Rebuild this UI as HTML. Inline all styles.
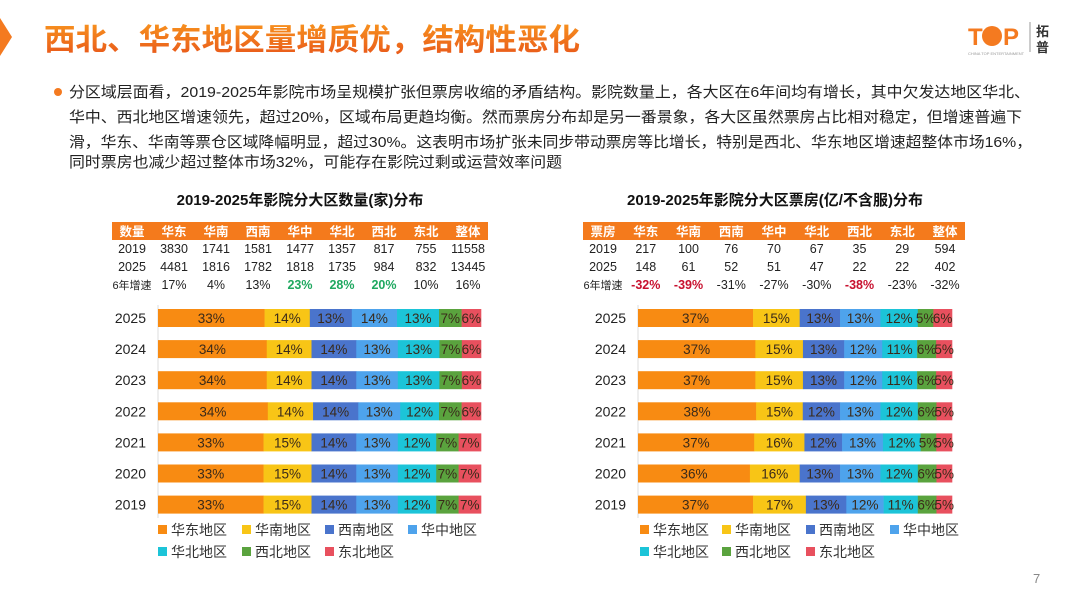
<!DOCTYPE html>
<html><head><meta charset="utf-8"><style>
body{margin:0;background:#fff;}
svg text{font-family:"Liberation Sans","Noto Sans CJK SC",sans-serif;}
</style></head><body>
<svg id="s" width="1080" height="608" viewBox="0 0 1080 608" xmlns="http://www.w3.org/2000/svg">
<defs><linearGradient id="tg" x1="0" y1="0" x2="0" y2="1"><stop offset="0" stop-color="#F7901E"/><stop offset="1" stop-color="#E8561A"/></linearGradient></defs>
<polygon points="0,18 12,37 0,56" fill="#F47A20"/>
<text x="44" y="50" font-size="30" font-weight="bold" fill="url(#tg)" textLength="536" lengthAdjust="spacingAndGlyphs">西北、华东地区量增质优，结构性恶化</text>
<g>
<text x="968" y="45" font-size="24" font-weight="bold" fill="#F47A20">T</text><circle cx="992" cy="36" r="10" fill="#F47A20"/><text x="1003" y="45" font-size="24" font-weight="bold" fill="#F47A20">P</text>
<line x1="1030" y1="22" x2="1030" y2="52" stroke="#999"/><text x="1036" y="36" font-size="13" font-weight="bold" fill="#333">拓</text><text x="1036" y="52" font-size="13" font-weight="bold" fill="#333">普</text>
<text x="968" y="55" font-size="4" fill="#999">CHINA TOP ENTERTAINMENT</text></g>
<circle cx="58" cy="92" r="4" fill="#F47A20"/>
<g font-size="15" fill="#222" lengthAdjust="spacingAndGlyphs">
<text x="69" y="97" textLength="961" lengthAdjust="spacingAndGlyphs">分区域层面看，2019-2025年影院市场呈规模扩张但票房收缩的矛盾结构。影院数量上，各大区在6年间均有增长，其中欠发达地区华北、</text>
<text x="69" y="122" textLength="953" lengthAdjust="spacingAndGlyphs">华中、西北地区增速领先，超过20%，区域布局更趋均衡。然而票房分布却是另一番景象，各大区虽然票房占比相对稳定，但增速普遍下</text>
<text x="69" y="147" textLength="963" lengthAdjust="spacingAndGlyphs">滑，华东、华南等票仓区域降幅明显，超过30%。这表明市场扩张未同步带动票房等比增长，特别是西北、华东地区增速超整体市场16%，</text>
<text x="69" y="167" textLength="493" lengthAdjust="spacingAndGlyphs">同时票房也减少超过整体市场32%，可能存在影院过剩或运营效率问题</text></g>
<text x="300" y="205" font-size="15" font-weight="bold" text-anchor="middle" fill="#111">2019-2025年影院分大区数量(家)分布</text>
<text x="775" y="205" font-size="15" font-weight="bold" text-anchor="middle" fill="#111">2019-2025年影院分大区票房(亿/不含服)分布</text>
<text x="1033" y="583" font-size="13" fill="#888">7</text>
<g id="left"></g><g id="right"></g><g id="legends"></g>
</svg>
<script>
const years = ["2025","2024","2023","2022","2021","2020","2019"];
const regions = ["华东地区","华南地区","西南地区","华中地区","华北地区","西北地区","东北地区"];
const colors = ["#F88B12","#F8C516","#4A74CC","#4EA3EC","#1CC4D8","#5AA33E","#E8505E"];
const countShares = [
[33,14,13,14,13,7,6],[34,14,14,13,13,7,6],[34,14,14,13,13,7,6],[34,14,14,13,12,7,6],[33,15,14,13,12,7,7],[33,15,14,13,12,7,7],[33,15,14,13,12,7,7]];
const boxShares = [
[37,15,13,13,12,5,6],[37,15,13,12,11,6,5],[37,15,13,12,11,6,5],[38,15,12,13,12,6,5],[37,16,12,13,12,5,5],[36,16,13,13,12,6,5],[37,17,13,12,11,6,5]];
const tableHeadCount = ["数量","华东","华南","西南","华中","华北","西北","东北","整体"];
const tableHeadBox = ["票房","华东","华南","西南","华中","华北","西北","东北","整体"];
const count2019 = ["2019","3830","1741","1581","1477","1357","817","755","11558"];
const count2025 = ["2025","4481","1816","1782","1818","1735","984","832","13445"];
const countGrowth = ["6年增速","17%","4%","13%","23%","28%","20%","10%","16%"];
const box2019 = ["2019","217","100","76","70","67","35","29","594"];
const box2025 = ["2025","148","61","52","51","47","22","22","402"];
const boxGrowth = ["6年增速","-32%","-39%","-31%","-27%","-30%","-38%","-23%","-32%"];
const countGrowthHighlight = [0,0,0,0,1,1,1,0,0];
const boxGrowthHighlight = [0,1,1,0,0,0,1,0,0];

const NS="http://www.w3.org/2000/svg";
function mk(tag,attrs,parent){const e=document.createElementNS(NS,tag);for(const k in attrs)e.setAttribute(k,attrs[k]);parent.appendChild(e);return e;}
const rowY = i => 318 + i*31.1;

function drawPanel(g, o){
  const tb=mk('rect',{x:o.tx0,y:222,width:o.tx1-o.tx0,height:18,fill:'#F47A1C'},g);
  
  
  const colX = i => o.tx0+20 + i*(o.tx1-o.tx0-40)/8;
  const rows=[[o.head,236,'#fff','bold',null],[o.r19,253,'#222','normal',null],[o.r25,271,'#222','normal',null],[o.gr,289,'#222','normal',o.hl]];
  rows.forEach(([arr,y,fill,fw,hl],ri)=>{
    arr.forEach((v,i)=>{
      const isHl = hl && hl[i];
      const t=mk('text',{x:colX(i),y:y,'font-size':i===0&&ri===3?11:12.5,'text-anchor':'middle',fill:isHl?o.hlColor:fill,'font-weight':isHl?'bold':fw},g);
      t.textContent=v;
      
      
    });
  });
  const ax=mk('line',{x1:o.bx0,y1:305,x2:o.bx0,y2:518,stroke:'#ddd'},g);
  
  
  years.forEach((yr,ri)=>{
    const cy=rowY(ri);
    const lt=mk('text',{x:o.bx0-12,y:cy+5,'font-size':14,'text-anchor':'end',fill:'#222'},g);
    lt.textContent=yr;
    
    
    const vals=o.data[ri];const tot=vals.reduce((a,b)=>a+b,0);
    const W=o.bx1-o.bx0;let x=o.bx0;
    vals.forEach((v,si)=>{
      const w=v/tot*W;
      const r=mk('rect',{x:x,y:cy-9,width:w+0.3,height:18,fill:colors[si]},g);
      
      
      const t=mk('text',{x:x+w/2,y:cy+5,'font-size':13.5,'text-anchor':'middle',fill:'#3a2a1a'},g);
      t.textContent=v+'%';
      
      
      x+=w;
    });
  });
}
drawPanel(document.getElementById('left'),{tx0:112,tx1:488,bx0:158,bx1:481,head:tableHeadCount,r19:count2019,r25:count2025,gr:countGrowth,hl:countGrowthHighlight,hlColor:'#1FA860',data:countShares});
drawPanel(document.getElementById('right'),{tx0:583,tx1:965,bx0:638,bx1:952,head:tableHeadBox,r19:box2019,r25:box2025,gr:boxGrowth,hl:boxGrowthHighlight,hlColor:'#C8102E',data:boxShares});

const lg=document.getElementById('legends');
[[158,[0,84,167,250]],[640,[0,82,166,250]]].forEach(([x0,offs])=>{
  regions.forEach((r,i)=>{
    const x=x0+offs[i%4], y=i<4?530:552;
    const sq=mk('rect',{x:x,y:y-5,width:9,height:9,fill:colors[i]},lg);
    
    
    const t=mk('text',{x:x+13,y:y+5,'font-size':14,fill:'#333'},lg);
    t.textContent=r;
    
    
  });
});
</script>
</body></html>
